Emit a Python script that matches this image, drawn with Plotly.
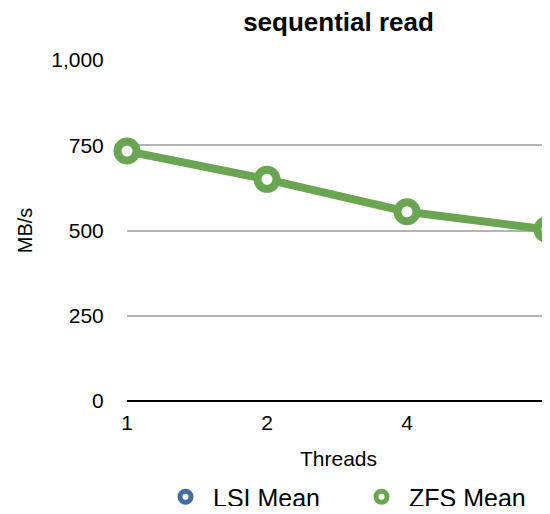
import plotly.graph_objects as go

threads = ["1", "2", "4", "8"]
lsi_mean = [None, None, None, None]
zfs_mean = [733, 650, 555, 503]
y_ticks = [0, 250, 500, 750, 1000]
y_tick_labels = ["0", "250", "500", "750", "1,000"]

FONT = "Liberation Sans, Arial, Helvetica, sans-serif"
GREEN = "#6aa652"
BLUE = "#3d6ea6"

fig = go.Figure()
fig.add_trace(go.Scatter(
    x=threads, y=lsi_mean, name="LSI Mean", mode="lines+markers",
    line=dict(color=BLUE, width=8),
    marker=dict(symbol="circle", size=19, color="white", line=dict(color=BLUE, width=8)),
    cliponaxis=False, showlegend=False,
))
fig.add_trace(go.Scatter(
    x=threads, y=zfs_mean, name="ZFS Mean", mode="lines+markers",
    line=dict(color=GREEN, width=8),
    marker=dict(symbol="circle", size=19, color="white", line=dict(color=GREEN, width=8)),
    cliponaxis=False, showlegend=False,
))
# legend entries (marker only, as in the reference)
for name, col in [("LSI Mean", BLUE), ("ZFS Mean", GREEN)]:
    fig.add_trace(go.Scatter(
        x=[None], y=[None], name=name, mode="markers",
        marker=dict(symbol="circle", size=11, color="white", line=dict(color=col, width=5)),
    ))

# page is offset by the 8px body margin, so positions below are page - 8
H = 498
fig.update_layout(
    width=542, height=H,
    margin=dict(l=119, r=0, t=52, b=105),
    paper_bgcolor="white", plot_bgcolor="white",
    font=dict(family=FONT, color="black", size=20),
    title=dict(text="<b>sequential read</b>", x=0.5, xref="paper", xanchor="center",
               y=1 - 14 / H, yanchor="middle", yref="container", font=dict(size=26)),
    showlegend=True,
    legend=dict(orientation="h", x=0.5407, xref="paper", xanchor="center",
                y=9 / H, yanchor="middle", yref="container", font=dict(size=25),
                itemwidth=45, entrywidth=136, entrywidthmode="pixels", tracegroupgap=0),
    xaxis=dict(
        type="category", range=[0, 3 * 423 / 420], showgrid=False, zeroline=False,
        showline=False, ticks="outside", ticklen=3, tickcolor="rgba(0,0,0,0)",
        tickfont=dict(size=21), ticklabeloverflow="allow", automargin=False,
        title=dict(text="Threads", font=dict(size=21), standoff=18),
    ),
    yaxis=dict(
        range=[0, 1000], tickvals=y_ticks, ticktext=y_tick_labels,
        showgrid=True, gridcolor="#b4b4b4", gridwidth=2,
        zeroline=True, zerolinecolor="black", zerolinewidth=2,
        showline=False, ticks="outside", ticklen=18, tickcolor="rgba(0,0,0,0)",
        tickfont=dict(size=21), automargin=False,
        title=dict(text="MB/s", font=dict(size=20), standoff=13),
    ),
)

fig.write_html("out.html")
